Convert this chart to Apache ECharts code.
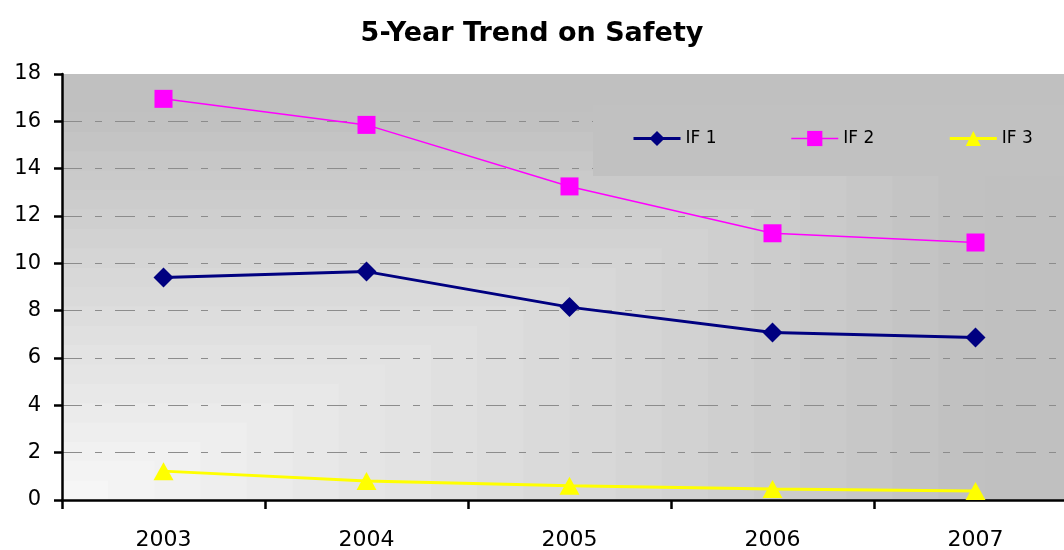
<!DOCTYPE html>
<html>
<head>
<meta charset="utf-8">
<script src="https://cdn.jsdelivr.net/npm/echarts@6/dist/echarts.min.js"></script>
<style>html,body{margin:0;padding:0;background:#fff}#c{width:1064px;height:550px}</style>
</head>
<body>
<div id="c"></div>
<script>
const categories = ['2003', '2004', '2005', '2006', '2007'];
const if1 = [9.4, 9.65, 8.15, 7.08, 6.87];
const if2 = [16.95, 15.85, 13.25, 11.27, 10.88];
const if3 = [1.22, 0.8, 0.6, 0.46, 0.38];
const seriesNames = ['IF 1', 'IF 2', 'IF 3'];

const FONT = '"DejaVu Sans", "Liberation Sans", Arial, sans-serif';
const H = 550;
const G = {left: 62, top: 74, width: 1015, bottom: 50};
const gx = G.left, gy = G.top, gw = G.width, gh = H - G.top - G.bottom;

// rectangular "from corner" gradient bands (plot background)
const elements = [];
const N = 22;
for (let k = 0; k < N; k++) {
  const f = 1 - k / N;
  const t = Math.max(0, 1 - (f / 0.93));
  const c = Math.round(192 + (249 - 192) * Math.min(1, t));
  const col = 'rgb(' + c + ',' + c + ',' + c + ')';
  const w = gw * f, h = gh * f;
  elements.push({type: 'rect', silent: true, z: -10,
    shape: {x: gx, y: gy + gh - h, width: w, height: h},
    style: {fill: col}});
}
// legend box fill (covers gridlines like the original)
elements.push({type: 'rect', silent: true, z: 1,
  shape: {x: 593, y: 105, width: 480, height: 71},
  style: {fill: '#c1c1c1'}});

const gridColors = [];
for (let i = 0; i < 9; i++) gridColors.push('#8c8c8c');
gridColors.push('rgba(0,0,0,0)');

const chart = echarts.init(document.getElementById('c'), null, {renderer: 'canvas'});
chart.setOption({
  animation: false,
  backgroundColor: '#ffffff',
  textStyle: {fontFamily: FONT},
  title: {
    text: '5-Year Trend on Safety', left: 'center', top: 15,
    textStyle: {fontFamily: FONT, fontSize: 27, fontWeight: 'bold', color: '#000'}
  },
  graphic: {elements: elements},
  legend: {
    data: [
      {name: seriesNames[0], lineStyle: {width: 3}},
      {name: seriesNames[1], lineStyle: {width: 1.5}},
      {name: seriesNames[2], lineStyle: {width: 3}}
    ],
    left: 632, top: 130, width: 600,
    padding: 0,
    itemWidth: 47, itemHeight: 19, itemGap: 74,
    textStyle: {fontFamily: FONT, fontSize: 17, color: '#000'}
  },
  grid: {left: G.left, top: G.top, width: G.width, bottom: G.bottom, containLabel: false, outerBoundsMode: 'none'},
  xAxis: {
    type: 'category', data: categories, boundaryGap: true,
    axisLine: {lineStyle: {color: '#000', width: 2.5}},
    axisTick: {show: true, length: 9, lineStyle: {color: '#000', width: 2.5}},
    axisLabel: {margin: 29, fontSize: 22, color: '#000', fontFamily: FONT},
    splitLine: {show: false}
  },
  yAxis: {
    type: 'value', min: 0, max: 18, interval: 2,
    axisLine: {show: true, lineStyle: {color: '#000', width: 2.5}},
    axisTick: {show: true, length: 8, lineStyle: {color: '#000', width: 2.5}},
    axisLabel: {margin: 21, fontSize: 21, color: '#000', fontFamily: FONT},
    splitLine: {show: true, lineStyle: {color: gridColors, width: 1, type: [20, 13, 7, 13]}}
  },
  series: [
    {name: seriesNames[0], type: 'line', data: if1, symbol: 'diamond', symbolSize: [20, 20], z: 3,
      lineStyle: {color: '#000080', width: 3}, itemStyle: {color: '#000080'}},
    {name: seriesNames[1], type: 'line', data: if2, symbol: 'rect', symbolSize: 18, z: 3,
      lineStyle: {color: '#ff00ff', width: 1.5}, itemStyle: {color: '#ff00ff'}},
    {name: seriesNames[2], type: 'line', data: if3, symbol: 'triangle', symbolSize: [20, 18], z: 3,
      lineStyle: {color: '#ffff00', width: 3}, itemStyle: {color: '#ffff00'}}
  ]
});
</script>
</body>
</html>
